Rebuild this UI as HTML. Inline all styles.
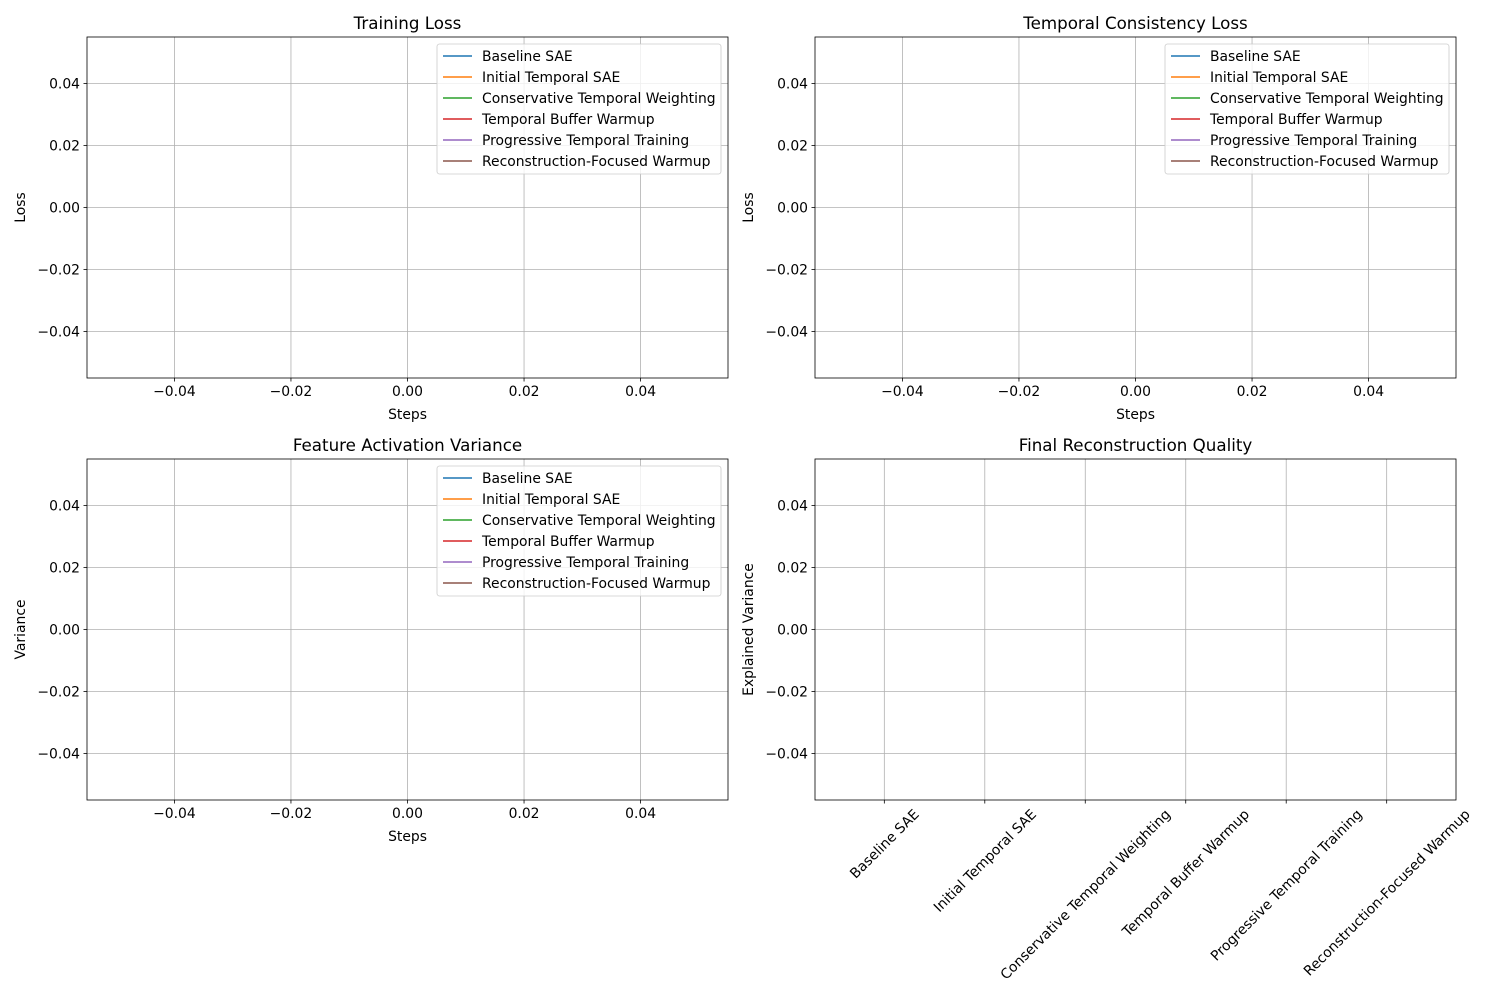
<!DOCTYPE html>
<html><head><meta charset="utf-8"><style>
html,body{margin:0;padding:0;background:#fff;}
svg{display:block;font-family:"DejaVu Sans","Liberation Sans",sans-serif;}
</style></head><body>
<svg id="fig" width="1500" height="1000" viewBox="0 0 1500 1000"></svg>
<script>
const seriesNames = ["Baseline SAE","Initial Temporal SAE","Conservative Temporal Weighting","Temporal Buffer Warmup","Progressive Temporal Training","Reconstruction-Focused Warmup"];
const seriesColors = ["#1f77b4","#ff7f0e","#2ca02c","#d62728","#9467bd","#8c564b"];
const xTicks = [-0.04,-0.02,0.00,0.02,0.04];
const xTickLabels = ["−0.04","−0.02","0.00","0.02","0.04"];
const yTicks = [0.04,0.02,0.00,-0.02,-0.04];
const yTickLabels = ["0.04","0.02","0.00","−0.02","−0.04"];
const barValues = [];   // empty data in reference
const lineValues = [[],[],[],[],[],[]];

const NS="http://www.w3.org/2000/svg";
const svg=document.getElementById('fig');
const FS='13.9px';
function mk(tag,attrs,parent){const e=document.createElementNS(NS,tag);for(const k in attrs)e.setAttribute(k,attrs[k]);(parent||svg).appendChild(e);return e;}

const panels=[
 {x0:87,y0:37,title:"Training Loss",xl:"Steps",yl:"Loss",legend:true,bar:false,key:"training-loss"},
 {x0:815,y0:37,title:"Temporal Consistency Loss",xl:"Steps",yl:"Loss",legend:true,bar:false,key:"temporal-loss"},
 {x0:87,y0:459,title:"Feature Activation Variance",xl:"Steps",yl:"Variance",legend:true,bar:false,key:"variance"},
 {x0:815,y0:459,title:"Final Reconstruction Quality",xl:null,yl:"Explained Variance",legend:false,bar:true,key:"reconstruction"}
];
const W=641,H=341;
panels.forEach(p=>{
  const g=mk('g',{});
  
  
  const sx=v=>p.x0+(v+0.055)/0.11*W;
  const sy=v=>p.y0+(0.055-v)/0.11*H;
  const bxmin=-0.69,bxmax=5.69;
  const bx=i=>p.x0+(i-bxmin)/(bxmax-bxmin)*W;
  const xs = p.bar ? seriesNames.map((_,i)=>bx(i)) : xTicks.map(sx);
  xs.forEach(x=>{const l=mk('line',{x1:x,x2:x,y1:p.y0,y2:p.y0+H,stroke:'#b0b0b0','stroke-width':0.8},g);});
  yTicks.forEach(v=>{const y=sy(v);const l=mk('line',{x1:p.x0,x2:p.x0+W,y1:y,y2:y,stroke:'#b0b0b0','stroke-width':0.8},g);});
  if(!p.bar){lineValues.forEach((vals,i)=>{if(vals.length){const pts=vals.map((v,j)=>sx(j)+','+sy(v)).join(' ');const pl=mk('polyline',{points:pts,fill:'none',stroke:seriesColors[i],'stroke-width':1.5},g);}});}
  else{barValues.forEach((v,i)=>{const r=mk('rect',{x:bx(i)-0.4*100.6,width:0.8*100.6,y:Math.min(sy(v),sy(0)),height:Math.abs(sy(v)-sy(0)),fill:seriesColors[i]},g);});}
  const fr=mk('rect',{x:p.x0,y:p.y0,width:W,height:H,fill:'none',stroke:'#000','stroke-width':0.8},g);
  
  yTicks.forEach((v,i)=>{const y=sy(v);mk('line',{x1:p.x0-3.5,x2:p.x0,y1:y,y2:y,stroke:'#000','stroke-width':0.8},g);
    const t=mk('text',{x:p.x0-7,y:y+4.8,'text-anchor':'end','font-size':FS,fill:'#000'},g);t.textContent=yTickLabels[i];
    });
  if(!p.bar){
    xTicks.forEach((v,i)=>{const x=sx(v);mk('line',{x1:x,x2:x,y1:p.y0+H,y2:p.y0+H+3.5,stroke:'#000','stroke-width':0.8},g);
      const t=mk('text',{x:x,y:p.y0+H+18,'text-anchor':'middle','font-size':FS,fill:'#000'},g);t.textContent=xTickLabels[i];
      });
  } else {
    seriesNames.forEach((n,i)=>{const x=bx(i);mk('line',{x1:x,x2:x,y1:p.y0+H,y2:p.y0+H+3.5,stroke:'#000','stroke-width':0.8},g);
      const t=mk('text',{x:0,y:0,'text-anchor':'middle','font-size':FS,fill:'#000'},g);t.textContent=n;
      
      const w=t.getComputedTextLength(),h=13.5;
      const cy=p.y0+H+7+(w+h)/(2*Math.SQRT2);
      t.setAttribute('transform','translate('+x+','+cy+') rotate(-45) translate(0,4.8)');});
  }
  const tt=mk('text',{x:p.x0+W/2,y:p.y0-8,'text-anchor':'middle','font-size':'16.7px',fill:'#000'},g);tt.textContent=p.title;
  
  if(p.xl){const xl=mk('text',{x:p.x0+W/2,y:p.y0+H+41,'text-anchor':'middle','font-size':FS,fill:'#000'},g);xl.textContent=p.xl;
    }
  const yx=p.x0-62, yy=p.y0+H/2;
  const yl=mk('text',{x:yx,y:yy,'text-anchor':'middle','font-size':FS,fill:'#000',transform:'rotate(-90 '+yx+' '+yy+')'},g);yl.textContent=p.yl;
  
  if(p.legend){
    const lx=p.x0+350, ly=p.y0+7;
    const lg=mk('g',{},g);
    mk('rect',{x:lx,y:ly,width:284,height:130,rx:2.5,fill:'#fff','fill-opacity':0.8,stroke:'#cccccc','stroke-width':0.8},lg);
    seriesNames.forEach((n,i)=>{const y=ly+12+i*21;
      const ln=mk('line',{x1:lx+6,x2:lx+35,y1:y,y2:y,stroke:seriesColors[i],'stroke-width':1.5},lg);
      
      const t=mk('text',{x:lx+45,y:y+4.8,'font-size':FS,fill:'#000'},lg);t.textContent=n;
      });
  }
});
</script>
</body></html>
